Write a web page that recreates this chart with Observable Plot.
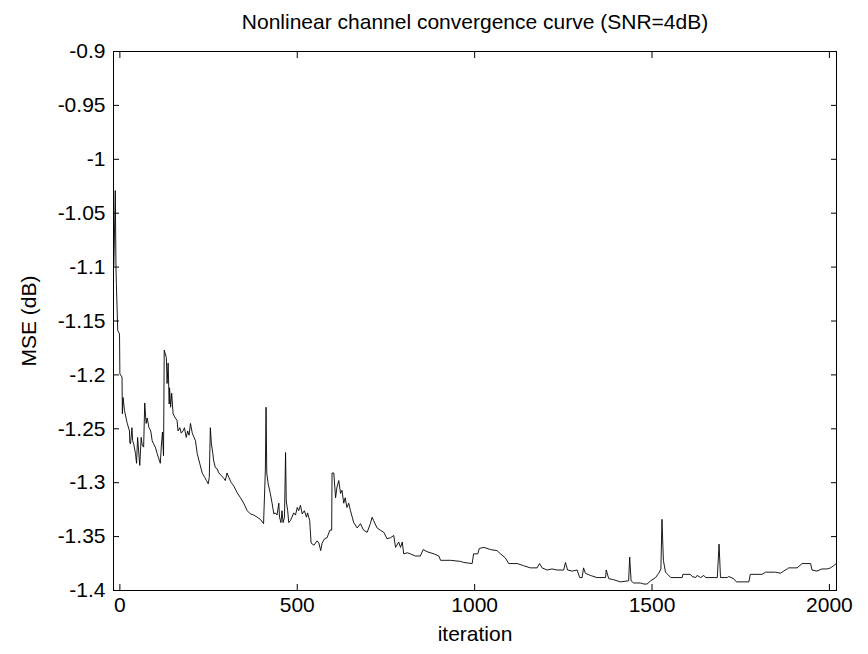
<!DOCTYPE html>
<html>
<head>
<meta charset="utf-8">
<script src="https://cdn.jsdelivr.net/npm/d3@7"></script>
<script src="https://cdn.jsdelivr.net/npm/@observablehq/plot@0.6"></script>
<style>
  html, body { margin: 0; padding: 0; background: #fff; }
  svg { font-family: "Liberation Sans", Arial, Helvetica, sans-serif; }
</style>
</head>
<body>
<div id="chart"></div>
<script>
const title = "Nonlinear channel convergence curve (SNR=4dB)";
const xLabel = "iteration";
const yLabel = "MSE (dB)";
const xTicks = [0, 500, 1000, 1500, 2000];
const yTicks = [-1.4, -1.35, -1.3, -1.25, -1.2, -1.15, -1.1, -1.05, -1, -0.95, -0.9];

const iter = [-17,-13,-11,-10,-6,-1,0,6,7,9,13,20,27,28,30,34,36,39,44,47,50,56,60,63,67,70,74,77,82,87,91,95,100,105,109,114,117,120,123,125,131,133,136,139,140,143,146,150,156,161,164,169,173,178,182,187,191,195,199,204,213,218,225,232,239,244,249,252,255,258,262,264,269,274,279,285,293,297,302,307,314,321,330,340,349,359,368,377,387,396,405,410,412,414,418,424,429,434,438,443,448,450,454,457,460,464,467,469,473,476,481,485,490,495,500,504,509,514,520,526,529,535,539,547,556,561,566,570,577,584,592,597,598,603,608,612,617,622,626,631,635,640,645,650,655,659,669,678,687,697,706,711,715,725,734,744,753,763,772,777,786,791,796,800,810,819,833,847,855,866,885,899,904,932,960,969,993,997,1009,1013,1026,1044,1063,1073,1087,1096,1120,1138,1157,1176,1183,1190,1204,1218,1232,1251,1256,1262,1275,1289,1296,1303,1307,1312,1326,1345,1369,1371,1378,1392,1411,1434,1437,1441,1448,1467,1477,1486,1496,1510,1519,1525,1528,1532,1538,1553,1585,1587,1608,1613,1623,1627,1637,1646,1651,1684,1689,1693,1712,1716,1730,1738,1773,1777,1810,1820,1848,1862,1871,1881,1885,1909,1923,1947,1951,1965,1979,1994,2003,2012,2019];

const mse = [-1.099,-1.029,-1.100,-1.115,-1.159,-1.162,-1.199,-1.202,-1.236,-1.221,-1.233,-1.244,-1.252,-1.263,-1.264,-1.249,-1.261,-1.264,-1.273,-1.282,-1.258,-1.284,-1.258,-1.265,-1.267,-1.226,-1.245,-1.240,-1.249,-1.252,-1.261,-1.264,-1.267,-1.273,-1.277,-1.282,-1.265,-1.253,-1.275,-1.177,-1.184,-1.208,-1.189,-1.227,-1.212,-1.230,-1.217,-1.236,-1.240,-1.242,-1.252,-1.249,-1.254,-1.252,-1.249,-1.258,-1.252,-1.256,-1.245,-1.254,-1.261,-1.273,-1.282,-1.291,-1.295,-1.298,-1.301,-1.295,-1.249,-1.264,-1.273,-1.279,-1.286,-1.287,-1.291,-1.293,-1.296,-1.298,-1.291,-1.295,-1.300,-1.303,-1.309,-1.314,-1.319,-1.326,-1.329,-1.330,-1.332,-1.334,-1.338,-1.289,-1.230,-1.291,-1.301,-1.310,-1.319,-1.329,-1.328,-1.330,-1.319,-1.332,-1.337,-1.326,-1.337,-1.332,-1.272,-1.317,-1.326,-1.337,-1.335,-1.332,-1.328,-1.330,-1.323,-1.326,-1.321,-1.329,-1.326,-1.332,-1.328,-1.335,-1.356,-1.358,-1.354,-1.356,-1.363,-1.356,-1.352,-1.351,-1.344,-1.344,-1.291,-1.291,-1.314,-1.304,-1.298,-1.310,-1.307,-1.319,-1.314,-1.323,-1.319,-1.326,-1.332,-1.337,-1.342,-1.338,-1.344,-1.346,-1.338,-1.332,-1.335,-1.342,-1.344,-1.346,-1.352,-1.351,-1.349,-1.360,-1.355,-1.360,-1.355,-1.366,-1.365,-1.366,-1.368,-1.368,-1.362,-1.364,-1.366,-1.368,-1.372,-1.372,-1.373,-1.374,-1.375,-1.366,-1.366,-1.361,-1.360,-1.362,-1.363,-1.366,-1.370,-1.375,-1.375,-1.377,-1.379,-1.379,-1.375,-1.379,-1.381,-1.380,-1.381,-1.381,-1.374,-1.381,-1.382,-1.381,-1.388,-1.388,-1.379,-1.384,-1.386,-1.388,-1.388,-1.381,-1.389,-1.390,-1.392,-1.391,-1.369,-1.391,-1.393,-1.393,-1.394,-1.394,-1.391,-1.388,-1.384,-1.380,-1.334,-1.372,-1.383,-1.388,-1.388,-1.385,-1.385,-1.387,-1.388,-1.386,-1.388,-1.386,-1.388,-1.388,-1.357,-1.388,-1.388,-1.387,-1.389,-1.392,-1.392,-1.385,-1.385,-1.383,-1.383,-1.384,-1.382,-1.380,-1.379,-1.379,-1.375,-1.375,-1.381,-1.382,-1.380,-1.380,-1.379,-1.377,-1.375];

const data = iter.map((d, i) => ({iteration: d, mse: mse[i]}));
const fontSize = 21;

const chart = Plot.plot({
  width: 868,
  height: 654,
  marginLeft: 113,
  marginRight: 32,
  marginTop: 51,
  marginBottom: 64,
  style: {fontFamily: '"Liberation Sans", Arial, sans-serif', fontSize: fontSize + "px", color: "#000", background: "#fff"},
  x: {domain: [-18, 2020]},
  y: {domain: [-1.4, -0.9]},
  marks: [
    Plot.frame({stroke: "#000", strokeWidth: 1}),
    Plot.line(data, {x: "iteration", y: "mse", stroke: "#000", strokeWidth: 0.9}),
    Plot.axisX({anchor: "bottom", ticks: xTicks, tickSize: -6, tickPadding: 13, tickFormat: d => String(d), label: xLabel, labelAnchor: "center", labelArrow: "none", labelOffset: 50, fontSize: fontSize}),
    Plot.axisX({anchor: "top", ticks: xTicks, tickSize: -6, tickFormat: () => "", label: null}),
    Plot.axisY({anchor: "left", ticks: yTicks, tickSize: -6, tickPadding: 14, tickFormat: d => String(d), label: yLabel, labelAnchor: "center", labelArrow: "none", labelOffset: 92, fontSize: fontSize}),
    Plot.axisY({anchor: "right", ticks: yTicks, tickSize: -6, tickFormat: () => "", label: null}),
    Plot.text([title], {frameAnchor: "top", dy: -29, text: d => d, fontSize: fontSize, lineAnchor: "middle"})
  ]
});
document.getElementById("chart").append(chart);
</script>
</body>
</html>
